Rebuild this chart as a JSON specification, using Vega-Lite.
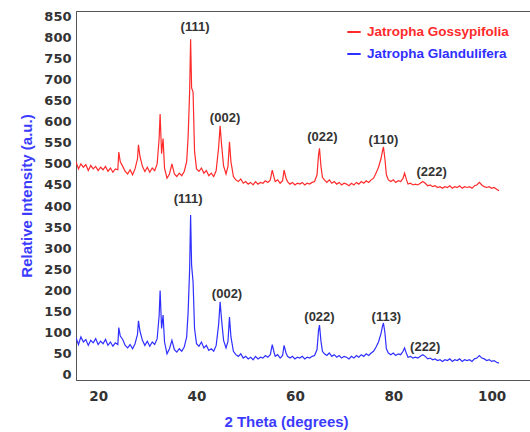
{
  "$schema": "https://vega.github.io/schema/vega-lite/v6.json",
  "width": 455,
  "height": 369,
  "autosize": {"type": "none"},
  "padding": {"left": 76, "top": 11, "right": 0, "bottom": 52},
  "background": "white",
  "config": {
    "view": {"stroke": "#555", "strokeWidth": 1},
    "axis": {"grid": false, "ticks": false, "tickSize": 0, "domainColor": "#555", "domainWidth": 1, "labelOverlap": false,
      "labelFont": "DejaVu Sans", "labelFontWeight": "bold", "labelFontSize": 13.5, "labelColor": "#333",
      "titleFont": "Liberation Sans", "titleFontWeight": "bold", "titleFontSize": 15, "titleColor": "#3b3bff"}
  },
  "datasets": {
    "xrd": [
      {"x":15.5,"g":505,"d":88},{"x":16,"g":488,"d":72},{"x":16.5,"g":500,"d":90},{"x":17,"g":492,"d":78},
      {"x":17.5,"g":498,"d":84},{"x":18,"g":484,"d":70},{"x":18.5,"g":496,"d":82},{"x":19,"g":488,"d":76},
      {"x":19.5,"g":494,"d":86},{"x":20,"g":484,"d":72},{"x":20.5,"g":492,"d":80},{"x":21,"g":486,"d":74},
      {"x":21.5,"g":494,"d":84},{"x":22,"g":482,"d":70},{"x":22.5,"g":490,"d":78},{"x":23,"g":480,"d":68},
      {"x":23.5,"g":488,"d":76},{"x":24,"g":486,"d":72},{"x":24.2,"g":528,"d":112},{"x":24.5,"g":505,"d":92},
      {"x":25,"g":494,"d":84},{"x":25.5,"g":482,"d":70},{"x":26,"g":476,"d":64},{"x":26.5,"g":486,"d":72},
      {"x":27,"g":474,"d":62},{"x":27.5,"g":488,"d":74},{"x":28,"g":512,"d":96},{"x":28.2,"g":545,"d":128},
      {"x":28.5,"g":518,"d":104},{"x":29,"g":494,"d":82},{"x":29.5,"g":482,"d":70},{"x":30,"g":492,"d":80},
      {"x":30.5,"g":480,"d":68},{"x":31,"g":490,"d":78},{"x":31.5,"g":484,"d":72},{"x":32,"g":500,"d":86},
      {"x":32.4,"g":560,"d":140},{"x":32.6,"g":618,"d":200},{"x":32.9,"g":524,"d":110},{"x":33.2,"g":560,"d":142},
      {"x":33.5,"g":490,"d":78},{"x":34,"g":466,"d":50},{"x":34.5,"g":476,"d":62},{"x":35,"g":500,"d":82},
      {"x":35.5,"g":476,"d":60},{"x":36,"g":470,"d":54},{"x":36.5,"g":478,"d":62},{"x":37,"g":472,"d":56},
      {"x":37.5,"g":482,"d":66},{"x":38,"g":505,"d":90},{"x":38.3,"g":565,"d":150},{"x":38.6,"g":670,"d":250},
      {"x":38.8,"g":795,"d":379},{"x":39.0,"g":680,"d":260},{"x":39.3,"g":670,"d":220},{"x":39.6,"g":530,"d":110},
      {"x":40,"g":488,"d":74},{"x":40.5,"g":482,"d":68},{"x":41,"g":490,"d":78},{"x":41.5,"g":478,"d":64},
      {"x":42,"g":484,"d":70},{"x":42.5,"g":472,"d":58},{"x":43,"g":478,"d":62},{"x":43.5,"g":470,"d":56},
      {"x":44,"g":484,"d":70},{"x":44.5,"g":540,"d":120},{"x":44.8,"g":590,"d":173},{"x":45.1,"g":545,"d":130},
      {"x":45.5,"g":495,"d":82},{"x":46,"g":476,"d":64},{"x":46.4,"g":494,"d":80},{"x":46.7,"g":552,"d":137},
      {"x":47,"g":505,"d":90},{"x":47.5,"g":470,"d":56},{"x":48,"g":462,"d":48},{"x":48.5,"g":458,"d":44},
      {"x":49,"g":464,"d":50},{"x":49.5,"g":454,"d":40},{"x":50,"g":458,"d":44},{"x":50.5,"g":452,"d":38},
      {"x":51,"g":456,"d":42},{"x":51.5,"g":450,"d":36},{"x":52,"g":458,"d":44},{"x":52.5,"g":452,"d":38},
      {"x":53,"g":456,"d":42},{"x":53.5,"g":454,"d":40},{"x":54,"g":460,"d":46},{"x":54.5,"g":456,"d":42},
      {"x":55,"g":462,"d":48},{"x":55.4,"g":485,"d":72},{"x":55.8,"g":466,"d":52},{"x":56,"g":458,"d":44},
      {"x":56.5,"g":462,"d":48},{"x":57,"g":454,"d":40},{"x":57.5,"g":460,"d":46},{"x":57.8,"g":485,"d":70},
      {"x":58.2,"g":466,"d":52},{"x":58.5,"g":458,"d":44},{"x":59,"g":452,"d":40},{"x":59.5,"g":456,"d":44},
      {"x":60,"g":450,"d":38},{"x":60.5,"g":454,"d":42},{"x":61,"g":452,"d":40},{"x":61.5,"g":456,"d":44},
      {"x":62,"g":450,"d":38},{"x":62.5,"g":454,"d":42},{"x":63,"g":452,"d":40},{"x":63.5,"g":456,"d":44},
      {"x":64,"g":458,"d":46},{"x":64.5,"g":474,"d":60},{"x":64.8,"g":520,"d":105},{"x":65.0,"g":537,"d":118},
      {"x":65.3,"g":494,"d":80},{"x":65.6,"g":468,"d":56},{"x":66,"g":462,"d":50},{"x":66.5,"g":456,"d":46},
      {"x":67,"g":462,"d":52},{"x":67.5,"g":454,"d":44},{"x":68,"g":458,"d":48},{"x":68.5,"g":452,"d":42},
      {"x":69,"g":456,"d":46},{"x":69.5,"g":450,"d":40},{"x":70,"g":454,"d":44},{"x":70.5,"g":452,"d":42},
      {"x":71,"g":448,"d":38},{"x":71.5,"g":454,"d":44},{"x":72,"g":450,"d":40},{"x":72.5,"g":456,"d":46},
      {"x":73,"g":452,"d":42},{"x":73.5,"g":458,"d":48},{"x":74,"g":454,"d":44},{"x":74.5,"g":460,"d":50},
      {"x":75,"g":456,"d":46},{"x":75.5,"g":462,"d":52},{"x":76,"g":466,"d":56},{"x":76.5,"g":478,"d":66},
      {"x":77,"g":492,"d":78},{"x":77.5,"g":512,"d":98},{"x":77.8,"g":530,"d":115},{"x":78.0,"g":540,"d":123},
      {"x":78.3,"g":512,"d":100},{"x":78.6,"g":474,"d":62},{"x":79,"g":462,"d":52},{"x":79.5,"g":458,"d":48},
      {"x":80,"g":462,"d":52},{"x":80.5,"g":456,"d":46},{"x":81,"g":460,"d":50},{"x":81.5,"g":458,"d":48},
      {"x":82,"g":466,"d":56},{"x":82.3,"g":478,"d":64},{"x":82.7,"g":462,"d":50},{"x":83,"g":452,"d":42},
      {"x":83.5,"g":454,"d":44},{"x":84,"g":450,"d":40},{"x":84.5,"g":452,"d":42},{"x":85,"g":450,"d":40},
      {"x":85.5,"g":454,"d":44},{"x":86,"g":458,"d":48},{"x":86.5,"g":454,"d":44},{"x":87,"g":448,"d":38},
      {"x":87.5,"g":450,"d":40},{"x":88,"g":446,"d":36},{"x":88.5,"g":448,"d":38},{"x":89,"g":444,"d":34},
      {"x":89.5,"g":446,"d":36},{"x":90,"g":442,"d":32},{"x":90.5,"g":446,"d":36},{"x":91,"g":444,"d":34},
      {"x":91.5,"g":448,"d":38},{"x":92,"g":442,"d":32},{"x":92.5,"g":446,"d":36},{"x":93,"g":444,"d":34},
      {"x":93.5,"g":448,"d":38},{"x":94,"g":442,"d":32},{"x":94.5,"g":446,"d":36},{"x":95,"g":444,"d":34},
      {"x":95.5,"g":446,"d":36},{"x":96,"g":442,"d":32},{"x":96.5,"g":448,"d":38},{"x":97,"g":450,"d":40},
      {"x":97.5,"g":456,"d":46},{"x":98,"g":450,"d":40},{"x":98.5,"g":446,"d":38},{"x":99,"g":444,"d":34},
      {"x":99.5,"g":446,"d":36},{"x":100,"g":442,"d":32},{"x":100.5,"g":444,"d":34},{"x":101,"g":440,"d":30},
      {"x":101.5,"g":436,"d":28}
    ],
    "labels": [
      {"x":39.7,"y":824,"t":"(111)"},{"x":45.8,"y":609,"t":"(002)"},{"x":65.6,"y":564,"t":"(022)"},
      {"x":78.0,"y":556,"t":"(110)"},{"x":87.8,"y":481,"t":"(222)"},
      {"x":38.3,"y":417,"t":"(111)"},{"x":46.2,"y":191,"t":"(002)"},{"x":65.0,"y":137,"t":"(022)"},
      {"x":78.6,"y":137,"t":"(113)"},{"x":86.5,"y":66,"t":"(222)"}
    ]
  },
  "encoding": {
    "x": {"field": "x", "type": "quantitative", "scale": {"domain": [15.5, 108], "nice": false, "zero": false},
      "axis": {"values": [20, 40, 60, 80, 100], "labelPadding": 9, "title": "2 Theta (degrees)", "titlePadding": 12, "titleX": 210}},
    "y": {"field": "y", "type": "quantitative", "scale": {"domain": [-12, 862], "nice": false, "zero": false},
      "axis": {"values": [0,50,100,150,200,250,300,350,400,450,500,550,600,650,700,750,800,850], "labelPadding": 5,
        "labelOverlap": false, "labelFontSize": 13, "labelBound": false,
        "title": "Relative Intensity (a.u.)", "titlePadding": 9}}
  },
  "layer": [
    {
      "data": {"name": "xrd"},
      "transform": [{"fold": ["g", "d"], "as": ["series", "y"]}],
      "mark": {"type": "line", "strokeWidth": 1.2, "clip": true},
      "encoding": {
        "color": {"field": "series", "type": "nominal",
          "scale": {"domain": ["g", "d"], "range": ["#ff2a2a", "#2f2fff"]},
          "legend": {"orient": "none", "legendX": 270, "legendY": 13, "title": null,
            "symbolType": "stroke", "symbolSize": 180, "symbolStrokeWidth": 2, "rowPadding": 7, "labelOffset": 5,
            "labelFont": "Liberation Sans", "labelFontWeight": "bold", "labelFontSize": 13.5,
            "labelExpr": "datum.value == 'g' ? 'Jatropha Gossypifolia' : ' Jatropha Glandulifera'",
            "encode": {"labels": {"update": {"fill": {"scale": "color", "field": "value"}}}}}}
      }
    },
    {
      "data": {"name": "labels"},
      "mark": {"type": "text", "font": "Liberation Sans", "fontWeight": "bold", "fontSize": 13, "color": "#333"},
      "encoding": {
        "text": {"field": "t"}
      }
    }
  ]
}
